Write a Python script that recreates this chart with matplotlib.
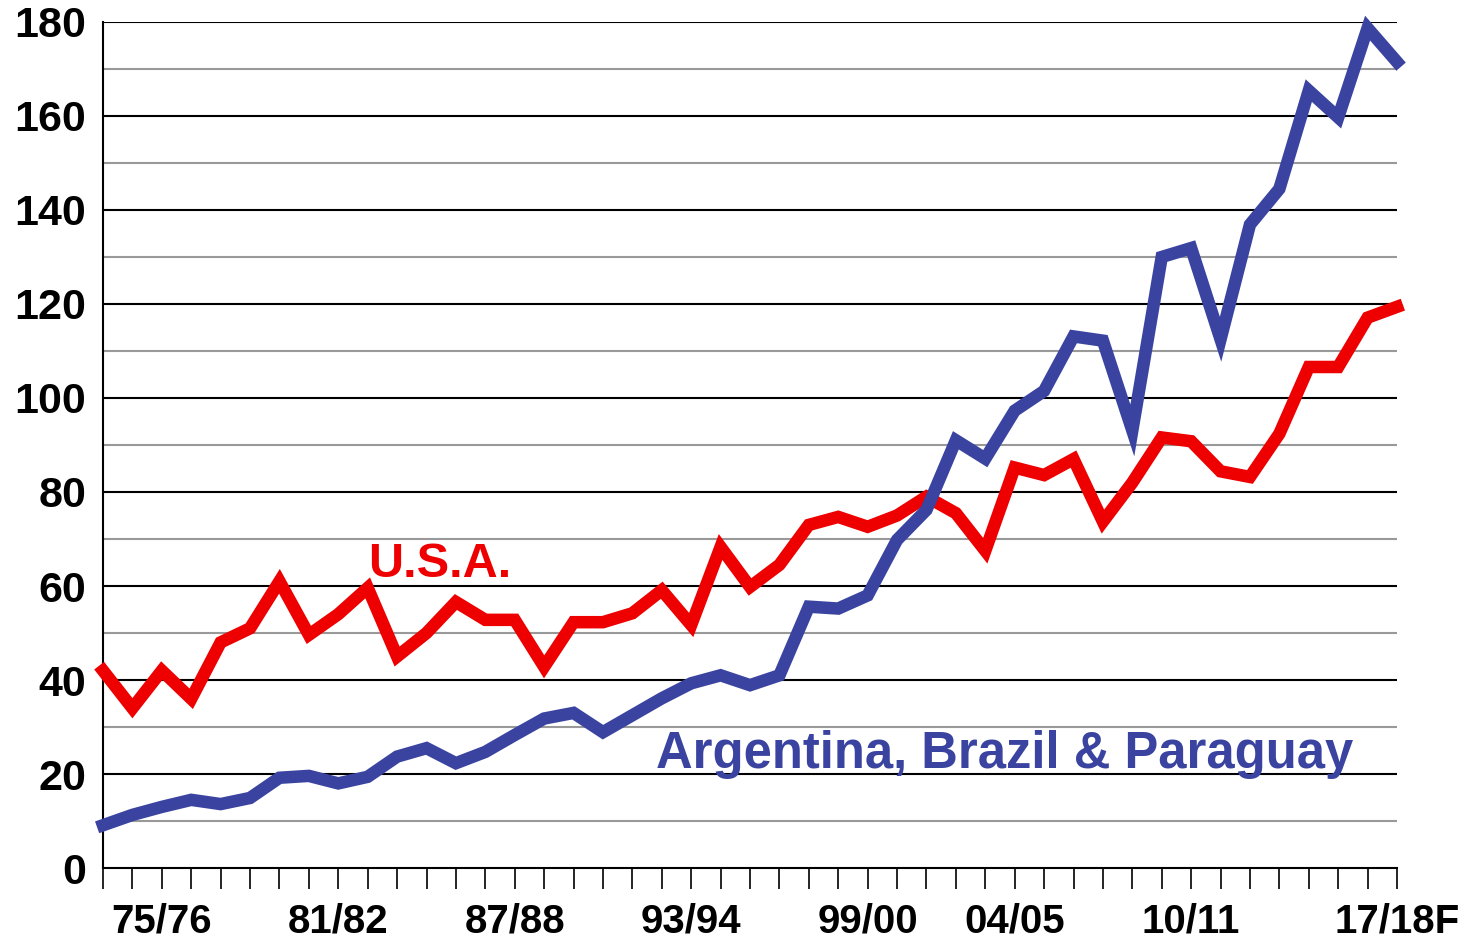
import numpy as np
import matplotlib
matplotlib.use("Agg")
import matplotlib.pyplot as plt

# seasons 73/74 .. 17/18F, one value per season (million tonnes)
seasons = [f"{y % 100:02d}/{(y + 1) % 100:02d}" for y in range(1973, 2018)]
seasons[-1] = seasons[-1] + "F"

usa = [42, 34, 42, 36, 48, 51, 61, 49.6, 54, 59.6,
       45, 50, 56.6, 52.8, 52.8, 42.8, 52.3, 52.3, 54.2, 59.1,
       51.7, 68.3, 59.8, 64.5, 73, 74.7, 72.6, 75, 79, 75.5,
       67.5, 85.2, 83.6, 87, 73.7, 82, 91.6, 90.8, 84.4, 83.2,
       92.4, 106.6, 106.6, 117.1, 119.4]

south_am = [9.1, 11.3, 13, 14.5, 13.6, 14.9, 19.2, 19.6, 18, 19.4,
            23.7, 25.5, 22.3, 24.7, 28.3, 31.8, 33, 28.9, 32.5, 36.1,
            39.3, 41, 38.9, 41, 55.6, 55.2, 58, 69.8, 76.2, 91,
            87.1, 97.3, 101.5, 113.1, 112.2, 93.1, 130, 131.9, 112.5, 136.9,
            144.5, 165.4, 159.7, 178.7, 171.5]

shown_labels = ["75/76", "81/82", "87/88", "93/94", "99/00", "04/05", "10/11", "17/18F"]

RED = "#ee0000"
BLUE = "#3a44a0"
FONT = "Liberation Sans"

fig = plt.figure(figsize=(14.77, 9.41), dpi=100)
ax = fig.add_axes([103 / 1477, 73 / 941, 1294 / 1477, 846 / 941])

x = np.arange(len(seasons))

# gridlines: black every 20, grey in between
for v in range(10, 180, 20):
    ax.axhline(v, color="#999999", lw=1.5, zorder=1)
for v in range(20, 181, 20):
    ax.axhline(v, color="black", lw=1.5, zorder=1)

ax.plot(x, usa, color=RED, lw=9, solid_joinstyle="miter", zorder=3, clip_on=False)
ax.plot(x, south_am, color=BLUE, lw=9, solid_joinstyle="miter", zorder=3, clip_on=False)

ax.set_xlim(0, len(seasons) - 1)
ax.set_ylim(0, 180)

ax.set_xticks(x)
ax.set_xticklabels([s if s in shown_labels else "" for s in seasons])
ax.set_yticks(range(0, 181, 20))

ax.tick_params(axis="x", length=15, width=1.2, pad=10, color="black")
ax.tick_params(axis="y", length=0, pad=12)
for lab in ax.get_xticklabels():
    lab.set_fontfamily(FONT)
    lab.set_fontweight("bold")
    lab.set_fontsize(29)
for lab in ax.get_yticklabels():
    lab.set_fontfamily(FONT)
    lab.set_fontweight("bold")
    lab.set_fontsize(31)

for side in ["top", "right"]:
    ax.spines[side].set_visible(False)
ax.spines["left"].set_linewidth(1.5)
ax.spines["bottom"].set_linewidth(1.5)

ax.text(11.46, 61.9, "U.S.A.", color=RED, fontsize=35, fontweight="bold",
        family=FONT, ha="center", va="baseline", zorder=4)
ax.text(30.65, 21.3, "Argentina, Brazil & Paraguay", color=BLUE, fontsize=36.5,
        fontweight="bold", family=FONT, ha="center", va="baseline", zorder=4)

fig.savefig("out.png", dpi=100)
